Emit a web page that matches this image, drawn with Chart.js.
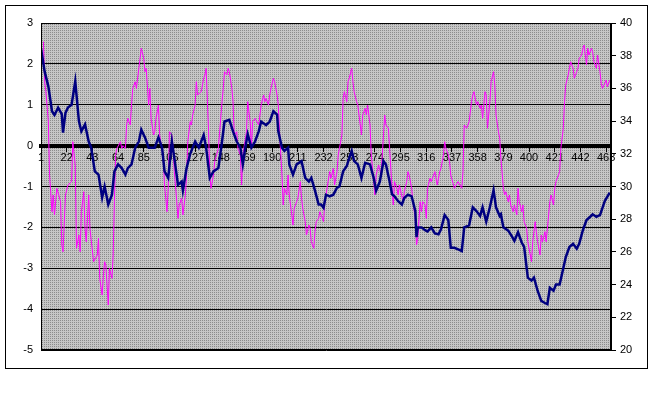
<!DOCTYPE html>
<html><head><meta charset="utf-8">
<script src="https://cdn.jsdelivr.net/npm/chart.js@4/dist/chart.umd.min.js"></script>
<style>html,body{margin:0;padding:0;background:#fff}#w{width:655px;height:400px}</style>
</head><body><div id="w"><canvas id="c"></canvas></div>
<script>
const xTickLabels=[1,22,43,64,85,106,127,148,169,190,211,232,253,274,295,316,337,358,379,400,421,442,463];
const blueIdx=[1,4,7,10,12,15,18,19,21,23,26,29,32,34,37,40,42,45,48,51,53,56,59,61,64,67,70,72,75,78,81,83,86,89,91,94,97,100,102,105,108,110,113,116,117,120,123,127,130,134,136,139,142,146,149,151,155,158,161,164,166,168,170,173,176,179,181,185,188,191,194,195,198,200,203,204,207,210,214,217,220,222,225,228,230,232,234,237,240,243,245,248,251,253,255,257,260,263,266,270,273,275,278,281,283,286,288,290,293,296,298,301,304,307,308,309,312,315,317,320,323,326,328,331,334,336,339,343,345,347,351,354,357,360,362,365,368,371,373,376,377,379,383,386,388,391,394,396,399,402,404,407,410,413,415,417,420,422,425,428,430,433,436,439,441,444,447,450,452,455,458,462,466];
const blueVal=[2.38,1.81,1.45,0.84,0.75,0.93,0.77,0.32,0.8,0.93,1.0,1.57,0.6,0.35,0.52,0.1,-0.05,-0.63,-0.71,-1.27,-1.0,-1.44,-1.2,-0.63,-0.46,-0.55,-0.71,-0.55,-0.46,-0.05,0.1,0.39,0.2,-0.05,-0.05,-0.05,0.2,-0.05,-0.63,-0.79,0.1,-0.3,-0.96,-0.88,-1.1,-0.55,-0.2,0.1,-0.05,0.26,-0.05,-0.79,-0.63,-0.55,0.1,0.59,0.63,0.35,0.1,-0.05,-0.46,-0.05,0.28,-0.05,0.1,0.35,0.59,0.5,0.59,0.84,0.76,0.35,-0.05,-0.13,-0.05,-0.46,-0.71,-0.46,-0.38,-0.79,-0.88,-0.79,-1.1,-1.44,-1.44,-1.52,-1.2,-1.24,-1.2,-1.03,-1.0,-0.63,-0.5,-0.3,-0.13,-0.38,-0.46,-0.79,-0.42,-0.46,-0.79,-1.1,-0.88,-0.38,-0.46,-0.88,-1.19,-1.24,-1.36,-1.44,-1.28,-1.2,-1.24,-1.6,-2.24,-2.0,-2.0,-2.07,-2.1,-2.0,-2.15,-2.17,-2.05,-1.7,-1.82,-2.5,-2.5,-2.55,-2.58,-2.0,-1.95,-1.51,-1.6,-1.72,-1.51,-1.86,-1.5,-1.09,-1.51,-1.72,-1.68,-2.0,-2.08,-2.22,-2.33,-2.12,-2.37,-2.48,-3.23,-3.3,-3.23,-3.55,-3.8,-3.85,-3.88,-3.48,-3.55,-3.4,-3.4,-3.0,-2.73,-2.48,-2.4,-2.52,-2.4,-2.07,-1.82,-1.74,-1.68,-1.74,-1.7,-1.35,-1.15];
const pinkIdx=[3,4,5,7,8,10,11,12,14,17,18,19,21,23,26,27,29,30,32,33,34,36,37,38,40,41,44,47,48,49,51,52,53,54,56,57,59,60,61,62,63,66,67,68,70,71,72,74,75,76,78,79,81,82,83,85,86,87,89,90,91,93,94,95,97,98,101,102,104,105,106,108,109,110,112,113,114,116,117,119,120,121,123,124,125,127,128,129,132,134,135,136,138,139,140,142,143,146,149,150,151,153,154,155,157,158,159,161,162,164,165,166,169,170,172,173,174,176,179,181,183,184,185,187,188,189,191,192,194,195,196,198,199,200,202,203,204,206,207,208,210,211,213,214,215,217,218,220,221,222,224,225,226,228,229,230,232,233,234,237,238,240,241,243,244,245,247,248,249,251,252,253,255,256,257,259,260,261,263,264,266,267,268,270,271,273,274,275,277,279,281,282,283,285,286,288,289,290,292,293,294,297,298,300,301,302,304,305,307,308,309,311,312,313,315,316,317,319,320,323,324,325,327,328,330,331,332,334,335,336,339,342,345,346,347,349,350,351,353,354,355,357,358,360,361,362,364,365,366,368,369,371,372,373,375,376,377,379,380,381,383,384,385,387,388,390,391,392,394,395,396,398,399,401,402,403,405,406,407,409,410,411,413,414,415,417,418,420,421,422,424,425,426,428,429,430,432,433,434,436,437,439,440,441,443,444,445,447,448,449,451,452,453,455,456,458,459,460,463,464,466];
const pinkVal=[38.86,36.4,35.8,34.0,30.7,28.46,29.48,28.26,29.89,29.07,26.42,26.01,29.48,30.09,30.3,32.74,31.31,26.22,27.03,26.01,28.46,29.68,27.44,26.62,29.48,27.44,25.4,25.81,26.83,24.38,23.36,24.58,25.4,25.2,22.75,24.99,24.38,25.81,29.07,31.93,32.33,32.74,32.33,32.5,32.33,33.76,34.17,33.76,34.98,36.0,36.41,36.0,37.23,37.84,38.45,37.84,37.02,37.23,34.98,36.0,34.17,33.15,33.35,34.17,34.98,33.15,31.72,30.09,28.46,29.89,33.35,33.15,32.33,30.91,29.07,28.05,28.87,29.28,28.26,29.48,30.7,32.74,33.97,33.76,34.37,34.98,36.41,35.6,35.8,36.62,36.82,37.23,33.35,30.7,29.89,30.7,31.52,32.33,35.19,36.0,37.02,36.82,37.23,37.02,36.0,35.19,33.15,33.35,32.33,31.93,30.09,31.93,33.35,35.19,33.97,32.33,33.97,34.17,33.76,34.98,35.6,35.19,35.39,34.98,35.6,36.0,36.62,36.41,35.6,34.98,33.35,30.7,28.87,29.89,29.48,30.7,29.48,28.26,27.64,28.66,29.07,29.28,30.3,29.28,28.66,27.85,27.03,27.64,27.44,26.62,26.22,27.24,27.85,28.05,28.46,28.26,27.85,29.07,29.48,30.91,30.5,31.11,30.09,30.91,31.93,32.33,33.15,35.39,35.8,35.19,36.41,36.62,37.23,36.41,35.8,35.19,34.98,34.37,33.15,34.37,34.78,34.37,34.98,33.76,31.93,30.3,29.48,30.7,31.31,30.7,33.15,34.37,33.76,33.56,32.33,29.89,28.87,30.3,29.89,29.48,30.09,29.07,29.68,30.3,30.91,30.7,29.89,29.07,28.05,26.42,26.83,29.07,28.46,29.07,28.87,28.05,29.89,30.5,30.3,30.91,30.5,30.09,30.91,31.11,31.93,32.74,32.33,31.93,31.52,30.7,29.89,30.3,29.89,30.91,33.76,33.56,33.76,33.97,35.19,35.6,35.8,34.98,35.19,34.78,34.98,34.17,35.8,35.6,33.56,35.19,36.41,37.02,36.21,34.37,33.35,32.95,31.72,29.89,29.48,29.68,29.07,29.48,28.87,28.46,28.87,28.26,29.89,29.07,28.46,28.87,27.85,27.44,26.62,25.81,25.4,26.62,27.85,27.24,26.62,25.81,27.03,26.62,27.24,26.62,27.44,29.07,29.48,28.87,29.89,30.3,30.7,30.91,32.33,33.56,35.19,36.21,36.82,37.23,37.63,37.23,36.62,37.02,37.23,37.84,38.04,38.45,38.65,37.43,38.45,38.04,38.45,38.25,37.63,37.23,38.04,37.02,36.3,36.0,36.5,36.1,36.5];

const pts=(ix,v)=>ix.map((x,k)=>({x:x,y:v[k]}));
const pc=document.createElement('canvas');pc.width=2;pc.height=2;
const g=pc.getContext('2d');g.fillStyle='#c6c6c6';g.fillRect(0,0,2,2);g.fillStyle='#8c8c8c';g.fillRect(0,0,1,1);
const ctx0=document.getElementById('c').getContext('2d');
const pattern=ctx0.createPattern(pc,'repeat');

const frame={id:'frame',
 beforeDraw(ch){const c=ch.ctx,a=ch.chartArea;c.save();c.fillStyle='#fff';c.fillRect(0,0,ch.width,ch.height);
  c.strokeStyle='#000';c.lineWidth=1;c.strokeRect(5.5,5.5,642,363);
  c.fillStyle=pattern;c.fillRect(a.left,a.top,a.right-a.left,a.bottom-a.top);c.restore();},
 afterDatasetsDraw(ch){const c=ch.ctx,a=ch.chartArea;c.save();c.strokeStyle='#000';c.lineWidth=1;
  c.strokeRect(a.left+0.5,a.top+0.5,a.right-a.left-1,a.bottom-a.top-1);c.restore();}};

new Chart(ctx0,{type:'line',
 data:{datasets:[
  {data:pts(blueIdx,blueVal),borderColor:'#000080',borderWidth:2.5,pointRadius:0,yAxisID:'y',order:1},
  {data:pts(pinkIdx,pinkVal),borderColor:'#ff00ff',borderWidth:1,pointRadius:0,yAxisID:'y1',order:2}]},
 options:{responsive:true,maintainAspectRatio:false,animation:false,
  layout:{padding:{left:0,right:0,top:23,bottom:50}},
  plugins:{legend:{display:false},tooltip:{enabled:false}},
  scales:{
   x:{type:'linear',min:1,max:467,position:{y:0},
    afterBuildTicks(s){s.ticks=xTickLabels.map(v=>({value:v}));},
    ticks:{autoSkip:false,maxRotation:0,color:'#000',font:{family:'Arial, Liberation Sans',size:11},padding:2,callback:v=>String(v)},
    grid:{display:true,drawOnChartArea:false,tickLength:4,color:'#000',lineWidth:1},
    border:{color:'#000',width:4,dash:[5,2]}},
   y:{position:'left',min:-5,max:3,afterFit(s){s.width=41;},
    ticks:{stepSize:1,color:'#000',font:{family:'Arial, Liberation Sans',size:11},padding:8},
    grid:{color:'#000',lineWidth:1,drawTicks:false},border:{color:'#000'}},
   y1:{position:'right',min:20,max:40,afterFit(s){s.width=44;},
    ticks:{stepSize:2,color:'#000',font:{family:'Arial, Liberation Sans',size:11},padding:4},
    grid:{drawOnChartArea:false,color:'#000',tickLength:5},border:{color:'#000'}}
  }},
 plugins:[frame]});
</script></body></html>
